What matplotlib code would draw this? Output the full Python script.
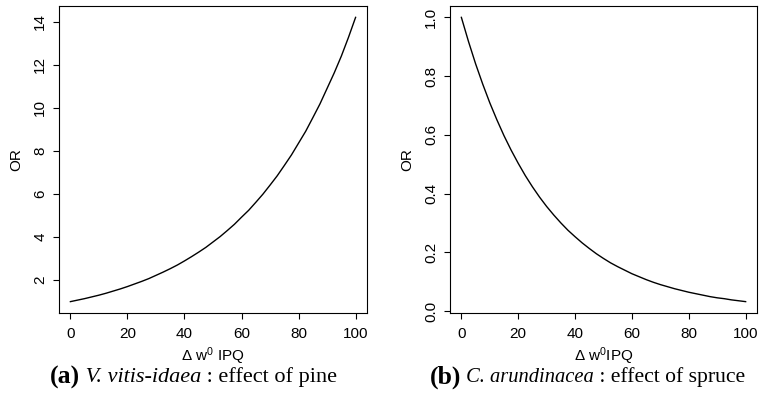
import numpy as np
import matplotlib.pyplot as plt

plt.rcParams['font.family'] = ['Liberation Sans', 'DejaVu Sans']
plt.rcParams['mathtext.fontset'] = 'custom'
plt.rcParams['mathtext.rm'] = 'Liberation Sans'
plt.rcParams['mathtext.it'] = 'Liberation Sans:italic'

# values, every 2.5 units of delta w0 IPQ
ipq = [0, 2.5, 5, 7.5, 10, 12.5, 15, 17.5, 20, 22.5, 25, 27.5, 30, 32.5, 35, 37.5, 40,
       42.5, 45, 47.5, 50, 52.5, 55, 57.5, 60, 62.5, 65, 67.5, 70, 72.5, 75, 77.5, 80,
       82.5, 85, 87.5, 90, 92.5, 95, 97.5, 100]
or_pine = [1.00, 1.07, 1.14, 1.22, 1.30, 1.39, 1.49, 1.59, 1.70, 1.82, 1.94, 2.07, 2.22,
           2.37, 2.53, 2.70, 2.89, 3.09, 3.30, 3.52, 3.77, 4.02, 4.30, 4.59, 4.92, 5.24,
           5.61, 5.99, 6.41, 6.84, 7.32, 7.81, 8.36, 8.91, 9.54, 10.18, 10.9, 11.62, 12.4,
           13.27, 14.2]
or_spruce = [1.000, 0.918, 0.842, 0.773, 0.709, 0.651, 0.597, 0.548, 0.503, 0.461, 0.423,
             0.388, 0.356, 0.327, 0.300, 0.275, 0.253, 0.232, 0.213, 0.195, 0.179, 0.164,
             0.151, 0.139, 0.127, 0.117, 0.107, 0.098, 0.090, 0.083, 0.076, 0.070, 0.064,
             0.059, 0.054, 0.049, 0.045, 0.042, 0.038, 0.035, 0.032]

x_ticks = [0, 20, 40, 60, 80, 100]
pine_ticks = [2, 4, 6, 8, 10, 12, 14]
spruce_ticks = [0.0, 0.2, 0.4, 0.6, 0.8, 1.0]
spruce_labels = ['0.0', '0.2', '0.4', '0.6', '0.8', '1.0']

fig = plt.figure(figsize=(7.6, 3.97), dpi=100)
ax1 = fig.add_axes([59 / 760, 1 - 313 / 397, 308 / 760, 307 / 397])
ax2 = fig.add_axes([450 / 760, 1 - 313 / 397, 307 / 760, 307 / 397])


def r_limits(vals):
    # R style 4% padding
    lo, hi = min(vals), max(vals)
    pad = (hi - lo) * 0.04
    return lo - pad, hi + pad


def style(ax):
    ax.set_xlim(r_limits(ipq))
    ax.set_xticks(x_ticks)
    for sp in ax.spines.values():
        sp.set_linewidth(0.8)
    ax.tick_params(direction='out', length=4.5, width=0.8, labelsize=11, pad=4)
    ax.tick_params(axis='x', pad=5.5)
    for lab in ax.get_yticklabels():
        lab.set_rotation(90)
        lab.set_va('center')
    ax.set_ylabel('OR', fontsize=11, labelpad=7)


ax1.plot(ipq, or_pine, color='black', lw=1.0)
ax1.set_ylim(r_limits(or_pine))
ax1.set_yticks(pine_ticks)
style(ax1)
ax1.set_xlabel('$\\Delta$ w$^{0}$ IPQ', fontsize=11, labelpad=3)

ax2.plot(ipq, or_spruce, color='black', lw=1.0)
ax2.set_ylim(r_limits(or_spruce))
ax2.set_yticks(spruce_ticks, spruce_labels)
style(ax2)
ax2.set_xlabel('$\\Delta$ w$^{0}$IPQ', fontsize=11, labelpad=3)

# captions: bold letter, italic species, plain rest
captions = [
    (50, [('(a)', 'bold', 'normal', 18.5), (' V. vitis-idaea', 'normal', 'italic', 16),
          (' : effect of pine', 'normal', 'normal', 16)]),
    (430, [('(b)', 'bold', 'normal', 18.5), (' C. arundinacea', 'normal', 'italic', 14.8),
           (' : effect of spruce', 'normal', 'normal', 15.6)]),
]
fig.canvas.draw()
renderer = fig.canvas.get_renderer()
for x0, parts in captions:
    x = x0
    for s, w, st, fs in parts:
        t = fig.text(x / 760, 1 - 377 / 397, s, family='Liberation Serif', fontweight=w,
                     fontstyle=st, fontsize=fs, va='center', ha='left')
        x += t.get_window_extent(renderer).width

fig.savefig('out.png', dpi=100)
